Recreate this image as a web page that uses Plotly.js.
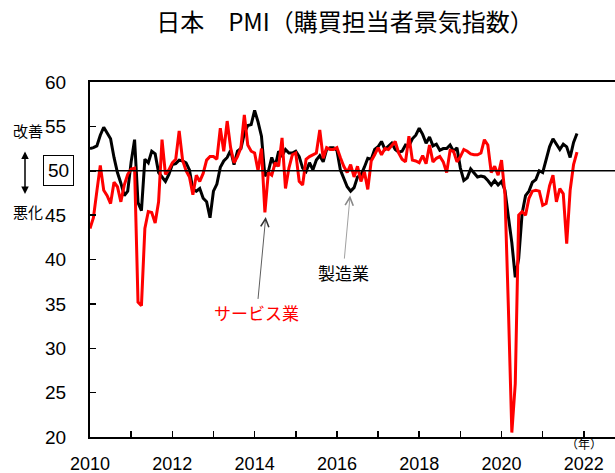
<!DOCTYPE html>
<html>
<head>
<meta charset="utf-8">
<script src="https://cdn.plot.ly/plotly-3.0.1.min.js"></script>
<style>
html, body { margin:0; padding:0; overflow:hidden; background:#fff; }
#chart { width:625px; height:473px; }
</style>
</head>
<body>
<div id="chart"></div>
<script>
// Monthly data, Jan 2010 – Nov 2021
const startYear = 2010;
const manufacturing = [
  52.5, 52.6, 52.8, 54.0, 54.9, 54.3, 53.6, 51.5, 49.8, 48.6, 47.2, 47.7, // 2010
  51.0, 53.5, 46.4, 45.5, 51.3, 50.9, 52.2, 51.9, 49.8, 49.3, 48.8, 49.6, // 2011
  50.7, 50.8, 51.2, 51.1, 50.9, 50.1, 47.9, 47.7, 48.0, 46.9, 46.5, 44.7, // 2012
  47.7, 48.5, 50.4, 51.1, 51.5, 52.3, 50.7, 52.2, 52.5, 54.2, 55.1, 55.2, // 2013
  56.8, 55.5, 53.9, 49.4, 49.9, 51.5, 50.5, 52.2, 51.7, 52.4, 52.0, 52.0, // 2014
  52.2, 51.6, 50.3, 49.9, 50.9, 50.1, 51.2, 51.7, 51.0, 52.4, 52.6, 52.6, // 2015
  52.3, 50.1, 49.1, 48.2, 47.7, 48.1, 49.3, 49.5, 50.4, 51.4, 51.3, 52.4, // 2016
  52.7, 53.3, 52.4, 52.7, 53.1, 52.4, 52.1, 52.2, 52.9, 52.8, 53.6, 54.0, // 2017
  54.8, 54.1, 53.1, 53.8, 52.8, 53.0, 52.3, 52.5, 52.5, 52.9, 52.2, 52.6, // 2018
  50.3, 48.9, 49.2, 50.2, 49.8, 49.3, 49.4, 49.3, 48.9, 48.4, 48.9, 48.4, // 2019
  48.8, 47.8, 44.8, 41.9, 38.0, 40.1, 45.2, 47.2, 47.7, 48.7, 49.0, 50.0, // 2020
  49.8, 51.4, 52.7, 53.6, 53.0, 52.4, 53.0, 52.7, 51.5, 53.2, 54.2        // 2021
];
const services = [
  43.5, 44.7, 47.7, 50.6, 47.8, 47.2, 46.3, 48.7, 48.2, 46.5, 48.4, 49.6, // 2010
  50.2, 50.3, 35.2, 34.8, 43.5, 45.4, 45.3, 44.1, 46.5, 53.5, 49.6, 50.1, // 2011
  50.9, 51.3, 54.5, 51.2, 50.0, 49.3, 47.3, 49.5, 48.8, 49.7, 51.2, 51.6, // 2012
  51.6, 51.3, 54.8, 52.2, 55.6, 52.6, 50.9, 51.6, 52.6, 56.3, 52.9, 52.2, // 2013
  52.0, 50.0, 52.5, 45.3, 49.8, 49.5, 50.9, 50.5, 53.7, 48.0, 50.3, 51.8, // 2014
  52.0, 48.8, 48.4, 51.3, 51.6, 51.8, 52.0, 54.6, 51.4, 52.6, 52.4, 52.4, // 2015
  52.6, 51.5, 50.5, 49.8, 50.7, 49.3, 50.5, 48.8, 49.9, 47.9, 51.1, 51.8, // 2016
  52.6, 51.8, 52.5, 52.4, 52.9, 53.3, 52.0, 51.3, 51.0, 53.9, 51.2, 51.1, // 2017
  50.9, 51.7, 50.8, 52.9, 51.0, 51.4, 51.6, 51.0, 49.8, 52.3, 52.2, 51.0, // 2018
  51.6, 52.4, 52.2, 51.9, 51.8, 51.8, 52.0, 53.5, 52.9, 49.8, 50.5, 49.5, // 2019
  51.2, 47.3, 34.5, 20.5, 26.0, 45.0, 45.4, 45.0, 46.9, 47.7, 47.8, 47.7, // 2020
  46.1, 46.3, 48.3, 49.5, 46.5, 48.0, 47.4, 41.8, 47.8, 50.7, 52.1        // 2021
];
const xTickVals = [2010, 2011, 2012, 2013, 2014, 2015, 2016, 2017, 2018, 2019, 2020, 2021, 2022];
const xTickText = ['2010', '', '2012', '', '2014', '', '2016', '', '2018', '', '2020', '', '2022'];
const yTickVals = [20, 25, 30, 35, 40, 45, 50, 55, 60];
const yTickText = ['20', '25', '30', '35', '40', '45', '', '55', '60'];
const seriesNames = ['製造業', 'サービス業'];
const titleText = '日本　PMI（購買担当者景気指数）';

const months = manufacturing.map((_, i) => startYear + i / 12);

// pixel helpers for plot geometry (plot area: x 90..625, y 82..437)
const L = 90, W = 535, T = 82, H = 355;
const PX = px => (px - L) / W;
const PY = py => (T + H - py) / H;

const jp = 'Noto Sans CJK JP, sans-serif';
const num = 'Liberation Sans, Arial, sans-serif';

const traces = [
  { x: months, y: manufacturing, name: seriesNames[0], type: 'scatter', mode: 'lines',
    line: { color: '#000000', width: 3 }, hoverinfo: 'skip' },
  { x: months, y: services, name: seriesNames[1], type: 'scatter', mode: 'lines',
    line: { color: '#FF0000', width: 3 }, hoverinfo: 'skip' }
];

const layout = {
  width: 625, height: 473,
  margin: { l: L, r: 0, t: T, b: 473 - T - H },
  paper_bgcolor: '#ffffff', plot_bgcolor: '#ffffff',
  showlegend: false,
  title: { text: titleText, font: { family: jp, size: 24, color: '#000' },
           xref: 'container', x: 345 / 625, xanchor: 'center',
           yref: 'container', y: 1 - 23 / 473, yanchor: 'middle' },
  xaxis: { range: [2010, 2023], tickvals: xTickVals, ticktext: xTickText,
           ticks: 'inside', ticklen: 6, tickwidth: 1.5, tickcolor: '#000',
           showline: true, linecolor: '#000', linewidth: 2, mirror: true,
           showgrid: false, zeroline: false, ticklabelstandoff: 9,
           tickfont: { family: num, size: 18, color: '#000' } },
  yaxis: { range: [20, 60], tickvals: yTickVals, ticktext: yTickText,
           ticks: 'inside', ticklen: 6, tickwidth: 1.5, tickcolor: '#000',
           showline: true, linecolor: '#000', linewidth: 2, mirror: true,
           showgrid: false, zeroline: false, ticklabelstandoff: 18,
           tickfont: { family: num, size: 19, color: '#000' } },
  shapes: [
    { type: 'line', xref: 'paper', x0: 0, x1: 1, yref: 'y', y0: 50, y1: 50,
      line: { color: '#000', width: 1.5 } }
  ],
  annotations: [
    { xref: 'paper', yref: 'paper', x: PX(58.5), y: PY(170), text: '50', showarrow: false,
      font: { family: num, size: 19, color: '#000' }, bordercolor: '#000', borderwidth: 1,
      borderpad: 4, xanchor: 'center', yanchor: 'middle' },
    { xref: 'paper', yref: 'paper', x: PX(28), y: PY(130), text: '改善', showarrow: false,
      font: { family: jp, size: 15, color: '#000' }, xanchor: 'center', yanchor: 'middle' },
    { xref: 'paper', yref: 'paper', x: PX(28), y: PY(211), text: '悪化', showarrow: false,
      font: { family: jp, size: 15, color: '#000' }, xanchor: 'center', yanchor: 'middle' },
    { xref: 'paper', yref: 'paper', x: PX(25), y: PY(194), text: '', showarrow: true,
      ax: 0, ay: -44, arrowside: 'end+start', arrowhead: 2, arrowsize: 1, arrowwidth: 1.5,
      arrowcolor: '#000' },
    { xref: 'x', yref: 'y', x: 2016.32, y: 47.2, text: seriesNames[0], showarrow: true,
      ax: -7, ay: 77, arrowhead: 5, arrowsize: 2, arrowwidth: 0.8, arrowcolor: '#888',
      font: { family: jp, size: 17, color: '#000' } },
    { xref: 'x', yref: 'y', x: 2014.27, y: 44.8, text: seriesNames[1], showarrow: true,
      ax: -9, ay: 96, arrowhead: 5, arrowsize: 2, arrowwidth: 0.8, arrowcolor: '#333',
      font: { family: jp, size: 17, color: '#FF0000' } },
    { xref: 'paper', yref: 'paper', x: PX(584), y: PY(443), text: '（年）', showarrow: false,
      font: { family: jp, size: 12, color: '#000' }, xanchor: 'center', yanchor: 'middle' }
  ]
};

Plotly.newPlot('chart', traces, layout, { staticPlot: true, responsive: false });
</script>
</body>
</html>
